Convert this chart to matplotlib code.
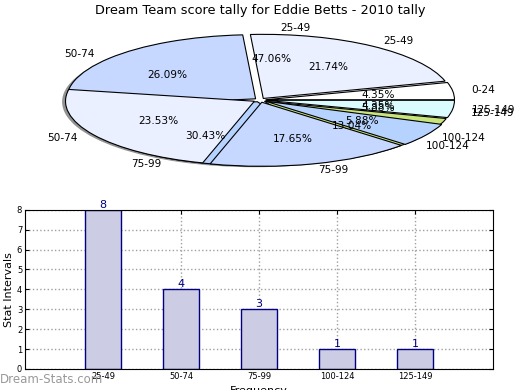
import matplotlib
matplotlib.use("Agg")
import matplotlib.pyplot as plt

# score tallies
bins_all = ['0-24', '25-49', '50-74', '75-99', '100-124', '125-149']
counts_all = [1, 5, 6, 7, 3, 1]          # wider tally (23 games)
bins_2010 = ['25-49', '50-74', '75-99', '100-124', '125-149']
counts_2010 = [8, 4, 3, 1, 1]            # 2010 tally (17 games)

title = 'Dream Team score tally for Eddie Betts - 2010 tally'

colors_all = ['#ffffff', '#eaf0ff', '#c6d8ff', '#b6d2ff', '#c8e47c', '#dafcff']
colors_2010 = ['none', '#eaf0ff', '#c6d8ff', '#b6d2ff', 'none']

fig = plt.figure(figsize=(5.2, 3.9), dpi=100)

# pie part
ax1 = fig.add_axes([0.046, 0.538, 0.908, 0.411])
# white base with the shadow rim, so gaps stay white
ax1.pie([sum(counts_all)], colors=['white'], radius=1.02,
        shadow={'ox': -0.02, 'oy': -0.02, 'shade': 0.85},
        wedgeprops={'linewidth': 0})
ax1.pie(counts_all, labels=bins_all, colors=colors_all, autopct='%.2f%%',
        explode=[0.03] * len(counts_all),
        wedgeprops={'edgecolor': 'black', 'linewidth': 0.8},
        textprops={'fontsize': 7.6})
w2, t2, p2 = ax1.pie(counts_2010, labels=bins_2010, colors=colors_2010, autopct='%.2f%%',
                     explode=[0.035] * len(counts_2010),
                     wedgeprops={'edgecolor': 'black', 'linewidth': 0.8},
                     textprops={'fontsize': 7.6})
for w, c in zip(w2, colors_2010):
    if c == 'none':
        w.set_edgecolor('none')
ax1.set_aspect('auto')
ax1.set_xlim(-1.25, 1.25)
ax1.set_ylim(-1.25, 1.25)
fig.text(0.5, 0.972, title, ha='center', va='center', fontsize=9.3)

# bar part
ax2 = fig.add_axes([0.048, 0.054, 0.9, 0.408])
x = range(1, len(bins_2010) + 1)
bars = ax2.bar(x, counts_2010, width=0.46, color='#ccccE4', edgecolor='#000080', linewidth=1)
for xi, v in zip(x, counts_2010):
    ax2.text(xi, v, str(v), ha='center', va='bottom', color='#000080', fontsize=8)
ax2.set_xlim(0, 6)
ax2.set_ylim(0, 8)
ax2.set_xticks(list(x))
ax2.set_xticklabels(bins_2010)
ax2.set_yticks(range(0, 9))
ax2.tick_params(labelsize=6, direction='in', length=3, top=True, right=True, pad=2)
ax2.grid(True, linestyle=':', color='#a0a0a0', linewidth=1)
ax2.set_axisbelow(True)
ax2.set_ylabel('Stat Intervals', fontsize=8, labelpad=2)
ax2.set_xlabel('Frequency', fontsize=8, labelpad=4)

fig.text(0.0, 0.026, 'Dream-Stats.com', color='#999999', fontsize=8.5, va='center')

fig.savefig('out.png', dpi=100)
